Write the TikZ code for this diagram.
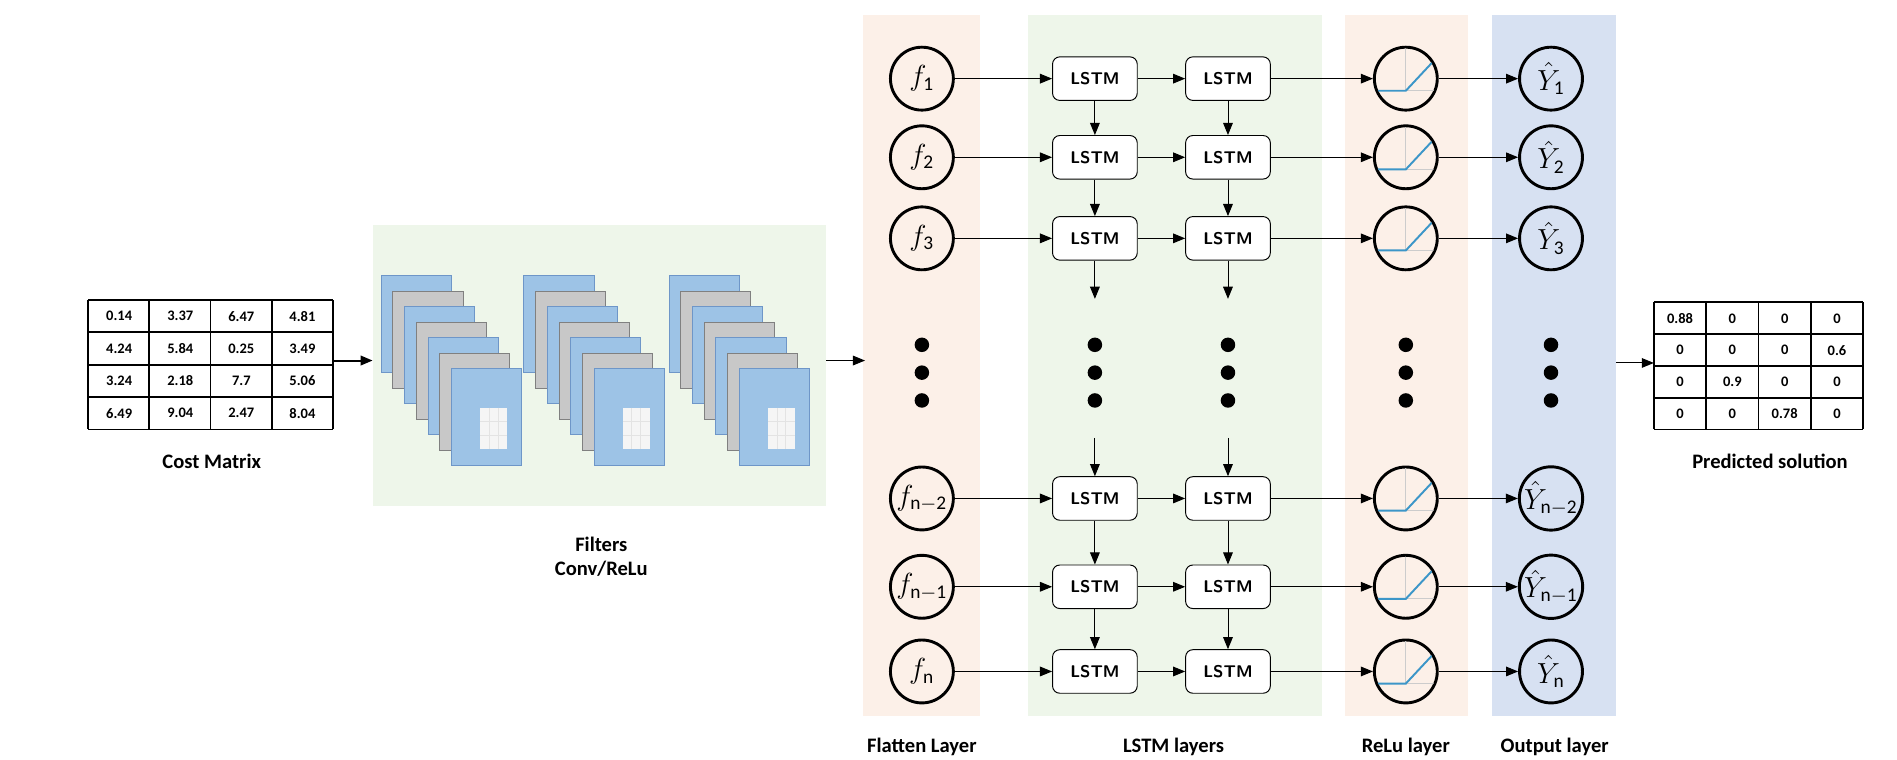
\documentclass[tikz,border=0pt]{standalone}
\usepackage{fontspec}
\setmainfont{Carlito}
\usetikzlibrary{arrows.meta}
\definecolor{bandorange}{RGB}{252,240,232}
\definecolor{bandgreen}{RGB}{238,246,234}
\definecolor{bandblue}{RGB}{215,225,242}
\definecolor{mapblue}{RGB}{157,195,230}
\definecolor{mapedge}{RGB}{110,150,200}
\definecolor{mapgray}{RGB}{200,200,200}
\definecolor{relublue}{RGB}{60,150,200}
\begin{document}
\begin{tikzpicture}[x=0.5pt,y=-0.5pt,>={Triangle[length=5pt,width=4pt]},
        unit/.style={draw,circle,very thick,minimum size=26pt,inner sep=0,font=\large},
        lstmbox/.style={draw,fill=white,rounded corners=3pt,minimum width=35pt,minimum height=18pt,font=\sffamily\bfseries\fontsize{7}{8}\selectfont},
        dotnode/.style={circle,fill=black,minimum size=6pt,inner sep=0},
        caption/.style={font=\bfseries\fontsize{8.5}{10}\selectfont,align=center},
        cell/.style={font=\bfseries\fontsize{6}{7}\selectfont},
        ]
        \useasboundingbox (0,0) rectangle (1568,628);
        % background bands
        \fill[bandgreen] (308,186) rectangle (683,418);
        \fill[bandorange] (713,12) rectangle (810,592);
        \fill[bandgreen] (850,12) rectangle (1093,592);
        \fill[bandorange] (1112,12) rectangle (1213,592);
        \fill[bandblue] (1233,12) rectangle (1336,592);

        % cost matrix
        \foreach \row [count=\r] in {{0.14,3.37,6.47,4.81},{4.24,5.84,0.25,3.49},{3.24,2.18,7.7,5.06},{6.49,9.04,2.47,8.04}}{
            \foreach \v [count=\c] in \row{
                \node[cell] (cm\r\c) at (73+50.5*\c-25,248+26.75*\r-13.4) {\v};
            }
        }
        \foreach \k in {0,...,4}{
            \draw[thick] (73+50.5*\k,248) -- (73+50.5*\k,355);
            \draw[thick] (73,248+26.75*\k) -- (275,248+26.75*\k);
        }
        \node[caption] (cmlab) at (175,381) {Cost Matrix};

        % filters
        \foreach \sx [count=\s] in {315,433,553}{
            \foreach \k in {0,...,6}{
                \ifodd\k
                    \filldraw[fill=mapgray,draw=gray] (\sx+9.7*\k,228+12.8*\k) rectangle ++(58,80);
                \else
                    \filldraw[fill=mapblue,draw=mapedge] (\sx+9.7*\k,228+12.8*\k) rectangle ++(58,80);
                \fi
            }
            \fill[white!92!gray] (\sx+82,337) rectangle ++(22,34);
            \foreach \g in {1,2}{
                \draw[white!78!gray] (\sx+82+7.33*\g,337) -- ++(0,34);
                \draw[white!78!gray] (\sx+82,337+11.33*\g) -- ++(22,0);
            }
        }
        \node[caption] (fillab) at (497,460) {Filters\\Conv/ReLu};
        \coordinate (filin) at (308,298);
        \coordinate (filout) at (683,298);
        \coordinate (flatin) at (715,298);
        \draw[->,thick] (275,298) -- (filin);
        \draw[->] (filout) -- (flatin);

        % layer nodes
        \foreach \y/\n [count=\i] in {65/1,130/2,197/3,412/{n-2},485/{n-1},555/n}{
            \node[unit] (f\i) at (762,\y) {$f_{\mathrm{\n}}$};
            \node[lstmbox] (a\i) at (905,\y) {LSTM};
            \node[lstmbox] (b\i) at (1015,\y) {LSTM};
            \node[unit] (r\i) at (1162,\y) {};
            \node[unit] (y\i) at (1282,\y) {$\hat{Y}_{\mathrm{\n}}$};
            \begin{scope}
                \clip (1162,\y) circle (25);
                \draw[gray!40] (1162,\y-30) -- (1162,\y+10) (1135,\y+10) -- (1190,\y+10);
                \draw[relublue,thick] (1135,\y+10) -- (1162,\y+10) -- (1190,\y-20);
            \end{scope}
            \draw[->] (f\i) -- (a\i);
            \draw[->] (a\i) -- (b\i);
            \draw[->] (b\i) -- (r\i);
            \draw[->] (r\i) -- (y\i);
        }
        \foreach \x/\m in {762/f,905/a,1015/b,1162/r,1282/y}{
            \foreach \y [count=\j] in {285,308,331}{
                \node[dotnode] (d\m\j) at (\x,\y) {};
            }
        }
        \foreach \m in {a,b}{
            \draw[->] (\m1) -- (\m2);
            \draw[->] (\m2) -- (\m3);
            \draw[->] (\m4) -- (\m5);
            \draw[->] (\m5) -- (\m6);
        }
        \draw[->] (a3) -- (905,247);
        \draw[->] (b3) -- (1015,247);
        \draw[->] (905,362) -- (a4);
        \draw[->] (1015,362) -- (b4);

        % predicted solution
        \foreach \row [count=\r] in {{0.88,0,0,0},{0,0,0,0.6},{0,0.9,0,0},{0,0,0.78,0}}{
            \foreach \v [count=\c] in \row{
                \node[cell] (pm\r\c) at (1367+43.25*\c-21.6,250+26.25*\r-13.1) {\v};
            }
        }
        \foreach \k in {0,...,4}{
            \draw[thick] (1367+43.25*\k,250) -- (1367+43.25*\k,355);
            \draw[thick] (1367,250+26.25*\k) -- (1540,250+26.25*\k);
        }
        \node[caption] (pmlab) at (1463,381) {Predicted solution};
        \coordinate (pmin) at (1367,300);
        \draw[->] (1336,300) -- (pmin);

        % captions
        \node[caption] (l1) at (762,617) {Flatten Layer};
        \node[caption] (l2) at (970,617) {LSTM layers};
        \node[caption] (l3) at (1162,617) {ReLu layer};
        \node[caption] (l4) at (1285,617) {Output layer};
        \end{tikzpicture}
\end{document}
